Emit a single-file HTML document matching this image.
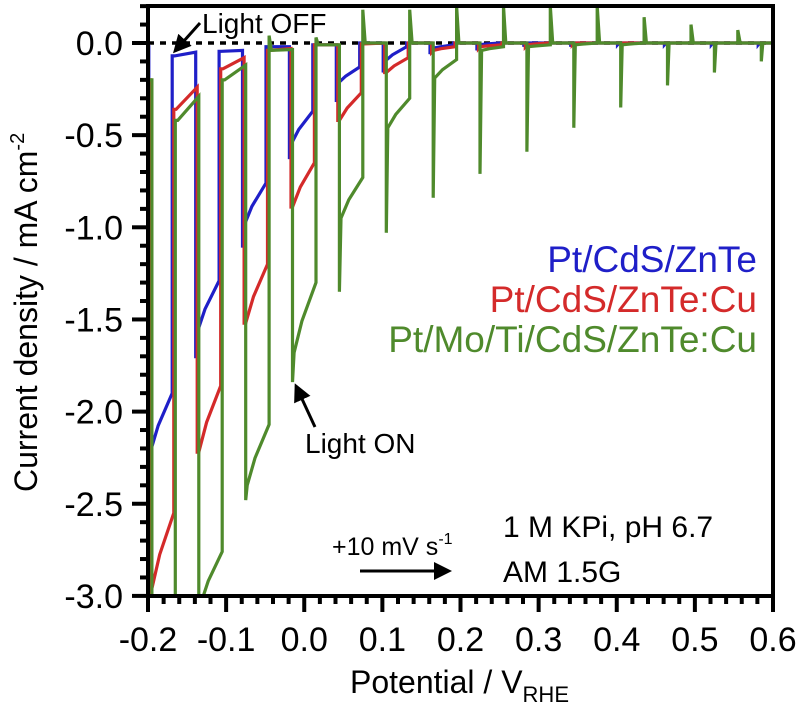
<!DOCTYPE html>
<html><head><meta charset="utf-8"><style>
body{margin:0;background:#fff}
svg{display:block;font-family:"Liberation Sans",Arial,sans-serif}
</style></head><body>
<svg id="chart" width="802" height="708" viewBox="0 0 802 708">
<defs><clipPath id="plotclip"><rect x="148" y="6" width="625" height="590"/></clipPath>
<marker id="ah" markerWidth="6" markerHeight="6" refX="5" refY="3" orient="auto"><path d="M0,0 L6,3 L0,6 Z" fill="#000"/></marker></defs>
<g id="axes"></g>
<g id="series" clip-path="url(#plotclip)"></g>
<rect x="148" y="6" width="625" height="590" fill="none" stroke="#000" stroke-width="4"/>
<text x="0" y="0" transform="translate(37,492) rotate(-90)" text-anchor="start" font-size="32">Current density / mA cm<tspan dy="-13" font-size="20">-2</tspan></text>
<text x="350" y="693" font-size="32">Potential / V<tspan dy="9" font-size="22">RHE</tspan></text>
<text x="757" y="272" text-anchor="end" font-size="37" fill="#1f1fc8">Pt/CdS/ZnTe</text>
<text x="757" y="312" text-anchor="end" font-size="37" fill="#d42a2a">Pt/CdS/ZnTe:Cu</text>
<text x="757" y="352" text-anchor="end" font-size="37" fill="#4f8a2c">Pt/Mo/Ti/CdS/ZnTe:Cu</text>
<text x="503" y="537" font-size="30">1 M KPi, pH 6.7</text>
<text x="503" y="582" font-size="30">AM 1.5G</text>
<text x="332" y="555" font-size="25">+10 mV s<tspan dy="-11" font-size="16">-1</tspan></text>
<line x1="360" y1="571" x2="449" y2="571" stroke="#000" stroke-width="3" marker-end="url(#ah)"/>
<text x="202" y="33" font-size="28">Light OFF</text>
<line x1="200" y1="23" x2="175" y2="51" stroke="#000" stroke-width="3" marker-end="url(#ah)"/>
<text x="305" y="453" font-size="28">Light ON</text>
<line x1="315" y1="427" x2="296" y2="386" stroke="#000" stroke-width="3" marker-end="url(#ah)"/>
</svg>
<script>
const onPotentials=[-0.195,-0.135,-0.075,-0.015,0.045,0.105,0.165,0.225,0.285,0.345,0.405,0.465,0.525,0.585];
const halfPeriod=0.03;
const xTicks=[-0.2,-0.1,0.0,0.1,0.2,0.3,0.4,0.5,0.6];
const xTickLabels=["-0.2","-0.1","0.0","0.1","0.2","0.3","0.4","0.5","0.6"];
const yTicks=[0,-0.5,-1,-1.5,-2,-2.5,-3];
const yTickLabels=["0.0","-0.5","-1.0","-1.5","-2.0","-2.5","-3.0"];
const greenSpike=[-3.3,-3.3,-2.48,-1.84,-1.35,-1.03,-0.84,-0.71,-0.59,-0.46,-0.35,-0.23,-0.16,-0.10];
const greenOnStart=[-3.3,-3.05,-2.40,-1.68,-0.95,-0.46,-0.19,-0.04,-0.02,-0.01,-0.01,0,0,0];
const greenOnEnd=[-3.3,-2.76,-2.07,-1.30,-0.73,-0.30,-0.09,-0.02,-0.01,0,0,0,0,0];
const greenOffSpike=[-0.42,-0.20,0.04,0.03,0.18,0.18,0.2,0.2,0.2,0.2,0.14,0.1,0.07,0.02];
const greenOffStart=[-0.42,-0.20,-0.04,-0.01,0,0,0,0,0,0,0,0,0,0];
const greenOffEnd=[-0.29,-0.12,-0.035,-0.01,0,0,0,0,0,0,0,0,0,0];
const redSpike=[-3.3,-2.22,-1.52,-0.89,-0.42,-0.16,-0.05,-0.03,-0.02,-0.01,0,0,0,0];
const redOnStart=[-2.96,-2.22,-1.52,-0.89,-0.42,-0.16,-0.04,-0.02,-0.01,0,0,0,0,0];
const redOnEnd=[-2.55,-1.86,-1.20,-0.65,-0.27,-0.08,-0.02,-0.01,0,0,0,0,0,0];
const redOffStart=[-0.36,-0.14,-0.04,-0.01,-0.005,0,0,0,0,0,0,0,0,0];
const redOffEnd=[-0.24,-0.08,-0.03,-0.01,0,0,0,0,0,0,0,0,0,0];
const blueSpike=[-2.3,-1.71,-1.11,-0.63,-0.32,-0.16,-0.06,-0.04,-0.02,-0.02,-0.01,-0.01,-0.01,-0.01];
const blueOnStart=[-2.22,-1.57,-0.99,-0.55,-0.22,-0.10,-0.03,-0.01,0,0,0,0,0,0];
const blueOnEnd=[-1.90,-1.29,-0.76,-0.37,-0.13,-0.02,-0.01,0,0,0,0,0,0,0];
const blueOffStart=[-0.07,-0.045,-0.02,-0.01,0,0,0,0,0,0,0,0,0,0];
const blueOffEnd=[-0.05,-0.04,-0.02,-0.01,0,0,0,0,0,0,0,0,0,0];

const NS="http://www.w3.org/2000/svg";
const X=v=>148+(v+0.2)*781.25;
const Y=j=>43-j*184.3;
const axes=document.getElementById('axes');
function mk(tag,attrs,parent){const e=document.createElementNS(NS,tag);for(const k in attrs)e.setAttribute(k,attrs[k]);parent.appendChild(e);return e;}
for(let i=0;i<=40;i++){const v=-0.2+i*0.02;const major=i%5===0;
 const t=mk('line',{x1:X(v),x2:X(v),y1:596,y2:596+(major?16:8),stroke:'#000','stroke-width':4},axes);
 
 }
for(let i=0;i<=32;i++){const j=0.2-i*0.1;const major=Math.abs(Math.round(j*10)%5)===0;
 const t=mk('line',{x1:148-(major?16:8),x2:148,y1:Y(j),y2:Y(j),stroke:'#000','stroke-width':4},axes);
 
 }
xTicks.forEach((v,i)=>{const t=mk('text',{x:X(v),y:651,'text-anchor':'middle','font-size':34},axes);t.textContent=xTickLabels[i];
 
 });
yTicks.forEach((v,i)=>{const t=mk('text',{x:123,y:Y(v)+12,'text-anchor':'end','font-size':34},axes);t.textContent=yTickLabels[i];
 
 });
const series=document.getElementById('series');
const zl=mk('line',{x1:148,x2:773,y1:Y(0),y2:Y(0),stroke:'#000','stroke-width':3.5,'stroke-dasharray':'6,6'},series);


function build(spike,onS,onE,offSp,offS,offE,shift,j0){
 const p=[[-0.2,j0]];
 for(let i=0;i<onPotentials.length;i++){
  const on=onPotentials[i]+shift,off=on+halfPeriod,next=(i+1<onPotentials.length?onPotentials[i+1]+shift:0.61);
  const prev=p[p.length-1][1];
  p.push([on,prev]);p.push([on,spike[i]]);p.push([on+0.002,onS[i]]);
  p.push([on+0.012,onS[i]+(onE[i]-onS[i])*0.45]);
  p.push([off,onE[i]]);p.push([off,offSp[i]]);p.push([off+0.003,offS[i]]);
  p.push([next,offE[i]]);
 }
 return p.map(q=>X(q[0]).toFixed(1)+','+Y(q[1]).toFixed(1)).join(' ');
}
const blue=mk('polyline',{points:build(blueSpike,blueOnStart,blueOnEnd,blueOffStart,blueOffStart,blueOffEnd,-0.004,-0.02),fill:'none',stroke:'#1f1fc8','stroke-width':3.2},series);


const red=mk('polyline',{points:build(redSpike,redOnStart,redOnEnd,redOffStart,redOffStart,redOffEnd,-0.002,-0.2),fill:'none',stroke:'#d42a2a','stroke-width':3.2},series);


const green=mk('polyline',{points:build(greenSpike,greenOnStart,greenOnEnd,greenOffSpike,greenOffStart,greenOffEnd,0,-0.2),fill:'none',stroke:'#4f8a2c','stroke-width':3.2},series);


</script>
</body></html>
